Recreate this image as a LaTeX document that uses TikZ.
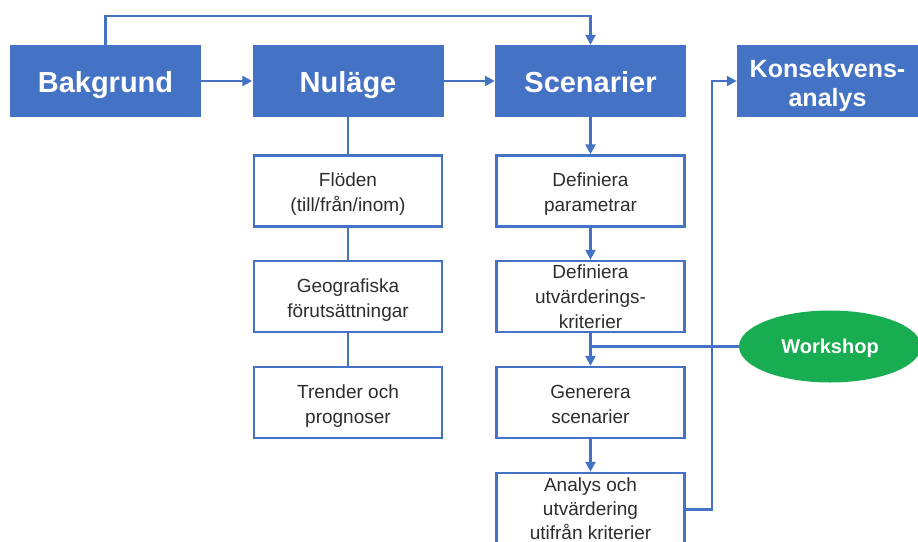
\documentclass[tikz,border=0pt]{standalone}
\usepackage{fontspec}
\setmainfont{Liberation Sans}
\usepackage{tikz}
\usetikzlibrary{shapes.geometric,arrows.meta}

\definecolor{blu}{RGB}{68,114,196}
\definecolor{grn}{RGB}{24,173,80}
\definecolor{txt}{RGB}{45,45,45}

% strut so that the one-line headers sit alike
\newcommand\hdrstrut{\rule[-6pt]{0pt}{35pt}}

\tikzset{
  hdr/.style={fill=blu, text=white, inner sep=0pt, align=center,
    minimum width=191pt, minimum height=72pt,
    execute at begin node=\hdrstrut, execute at end node=\hdrstrut,
    font=\bfseries\fontsize{29}{31}\selectfont},
  stepbox/.style={draw=blu, line width=2.5pt, fill=white, text=txt, inner sep=0pt,
    align=center, minimum width=188pt, minimum height=71pt,
    text height=41pt, text depth=0pt,
    font=\fontsize{19}{25}\selectfont},
  threeline/.style={text height=64pt},
  link/.style={draw=blu, line width=2.5pt},
  arr/.style={link, -{Triangle[length=10pt,width=10pt]}}
}

\begin{document}
\begin{tikzpicture}[x=1pt,y=-1pt]
\useasboundingbox (0,0) rectangle (918,541);
\clip (0,0) rectangle (918,541);

% top row
\node[hdr] (bak) at (105.5,81) {Bakgrund};
\node[hdr] (nul) at (348,81) {Nuläge};
\node[hdr] (scen) at (590.5,81) {Scenarier};
\node[hdr, minimum width=181pt, text height=50pt, text depth=0pt,
  font=\bfseries\fontsize{25}{29}\selectfont] (kons) at (827.5,81) {Konsekvens-\\analys};

% nulage column
\node[stepbox] (flo) at (348,191) {Flöden\\(till/från/inom)};
\node[stepbox] (geo) at (348,296.5) {Geografiska\\förutsättningar};
\node[stepbox] (tre) at (348,402.5) {Trender och\\prognoser};

% scenario column
\node[stepbox] (def1) at (590.5,191) {Definiera\\parametrar};
\node[stepbox, threeline] (def2) at (590.5,296.5) {Definiera\\utvärderings-\\kriterier};
\node[stepbox] (gen) at (590.5,402.5) {Generera\\scenarier};
\node[stepbox, threeline, text height=60pt, minimum height=73pt,
  font=\fontsize{19}{24}\selectfont] (ana) at (590.5,509.5) {Analys och\\utvärdering\\utifrån kriterier};

\node[ellipse, fill=grn, text=white, inner sep=0pt, minimum width=182pt, minimum height=72pt,
  text height=14pt, text depth=0pt,
  font=\bfseries\fontsize{20}{22}\selectfont] (work) at (830,346.5) {Workshop};

% connectors
\draw[arr] (bak) -- (nul);
\draw[arr] (nul) -- (scen);
\draw[arr] (bak.north) -- ++(0,-29) -| (scen.north);

\draw[link] (nul.south) -- (flo.north);
\draw[link] (flo.south) -- (geo.north);
\draw[link] (geo.south) -- (tre.north);

\draw[arr] (scen.south) -- (def1.north);
\draw[arr] (def1.south) -- (def2.north);
\draw[arr] (def2.south) -- (gen.north);
\draw[arr] (gen.south) -- (ana.north);

\draw[link] (work.west) -- (def2.south |- work.west);
\draw[arr] (ana.east) -- ++(26,0) |- (kons.west);

\end{tikzpicture}
\end{document}
